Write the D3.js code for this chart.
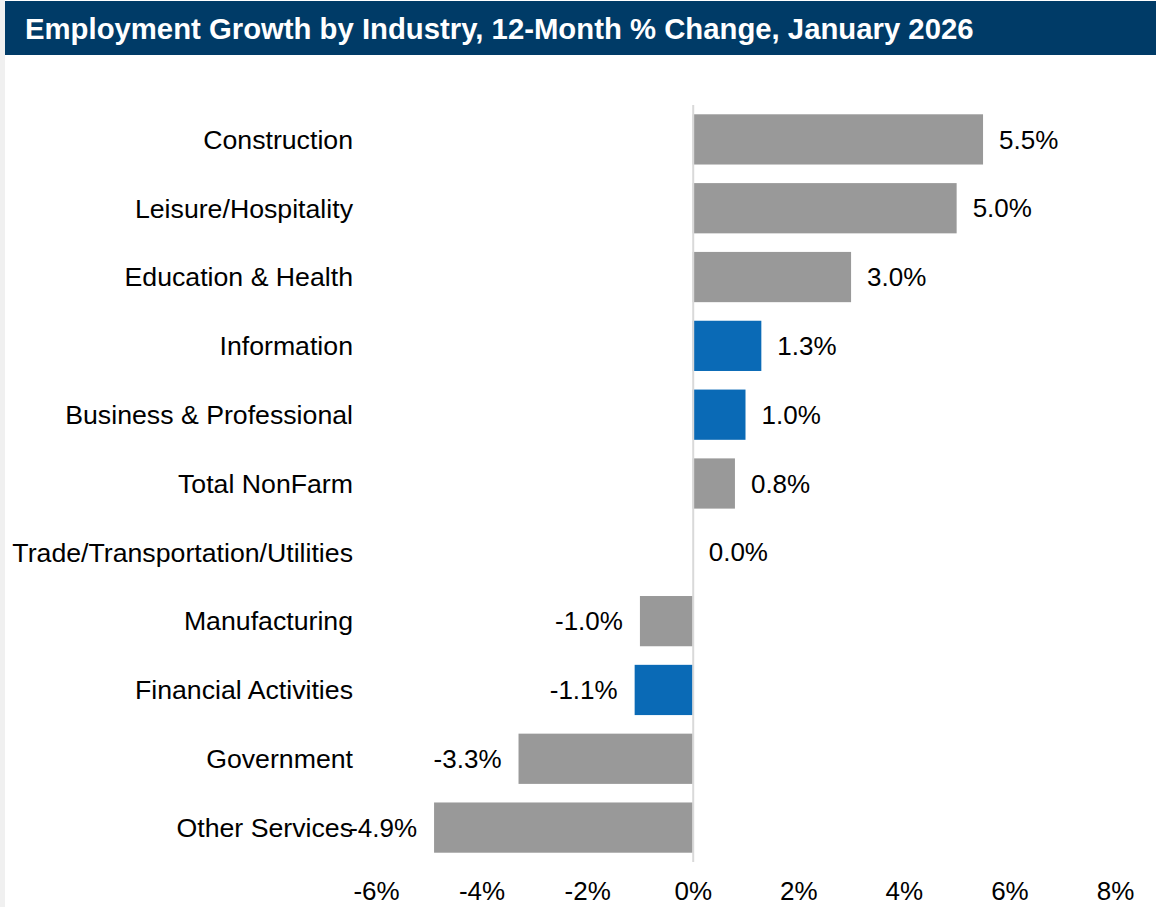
<!DOCTYPE html>
<html>
<head>
<meta charset="utf-8">
<script src="https://cdn.jsdelivr.net/npm/d3@7"></script>
<style>
  body { margin: 0; background: #fff; }
  svg { display: block; font-family: Arial, "Liberation Sans", sans-serif; }
</style>
</head>
<body>
<script>
// chart data
var categories = ["Construction", "Leisure/Hospitality", "Education & Health", "Information",
                  "Business & Professional", "Total NonFarm", "Trade/Transportation/Utilities",
                  "Manufacturing", "Financial Activities", "Government", "Other Services"];
var values = [5.5, 5.0, 3.0, 1.3, 1.0, 0.8, 0.0, -1.0, -1.1, -3.3, -4.9];
var highlighted = ["Information", "Business & Professional", "Financial Activities"];
var tickValues = [-6, -4, -2, 0, 2, 4, 6, 8];
var title = "Employment Growth by Industry, 12-Month % Change, January 2026";

var W = 1156, H = 907;

var svg = d3.select("body").append("svg")
    .attr("width", W)
    .attr("height", H);

// grey strip down the left edge
svg.append("rect")
    .attr("x", 0).attr("y", 0)
    .attr("width", 5).attr("height", H)
    .attr("fill", "#f0f0f0");

// title bar
svg.append("rect")
    .attr("x", 5).attr("y", 1)
    .attr("width", W - 5).attr("height", 54)
    .attr("fill", "#003b67");

svg.append("text")
    .attr("x", 25).attr("y", 39)
    .attr("fill", "#fff")
    .style("font-size", "29.3px")
    .style("font-weight", "bold")
    .text(title);

var x = d3.scaleLinear()
    .domain([-6, 8])
    .range([376, 1115]);

var y = d3.scaleBand()
    .domain(categories)
    .range([105, 862])
    .paddingInner(0.27)
    .paddingOuter(0.135);

var rows = categories.map(function(c, i) { return {cat: c, val: values[i]}; });

// bars
svg.selectAll("rect.bar")
    .data(rows)
  .enter().append("rect")
    .attr("class", "bar")
    .attr("x", function(d) { return x(Math.min(0, d.val)); })
    .attr("y", function(d) { return y(d.cat); })
    .attr("width", function(d) { return Math.abs(x(d.val) - x(0)); })
    .attr("height", y.bandwidth())
    .attr("fill", function(d) {
        return highlighted.indexOf(d.cat) >= 0 ? "#0a6ab6" : "#999999";
    });

// zero line
svg.append("line")
    .attr("x1", x(0) + 0.5).attr("x2", x(0) + 0.5)
    .attr("y1", y.range()[0]).attr("y2", y.range()[1])
    .attr("stroke", "#d9d9d9")
    .attr("stroke-width", 2);

// category labels
svg.selectAll("text.cat")
    .data(rows)
  .enter().append("text")
    .attr("class", "cat")
    .attr("x", 353)
    .attr("y", function(d) { return y(d.cat) + y.bandwidth() / 2; })
    .attr("dy", ".35em")
    .attr("text-anchor", "end")
    .style("font-size", "26.7px")
    .attr("fill", "#000")
    .text(function(d) { return d.cat; });

// value labels
svg.selectAll("text.val")
    .data(rows)
  .enter().append("text")
    .attr("class", "val")
    .attr("x", function(d) { return d.val < 0 ? x(d.val) - 17 : x(d.val) + 16; })
    .attr("y", function(d) { return y(d.cat) + y.bandwidth() / 2; })
    .attr("dy", ".35em")
    .attr("text-anchor", function(d) { return d.val < 0 ? "end" : "start"; })
    .style("font-size", "26px")
    .attr("fill", "#000")
    .text(function(d) { return d.val.toFixed(1) + "%"; });

// x axis
var axis = svg.append("g")
    .attr("transform", "translate(0," + y.range()[1] + ")")
    .call(d3.axisBottom(x)
        .tickValues(tickValues)
        .tickSize(0)
        .tickPadding(20)
        .tickFormat(function(d) { return d + "%"; }));

axis.select(".domain").remove();
axis.selectAll("text")
    .style("font-size", "26px")
    .style("font-family", "Arial, 'Liberation Sans', sans-serif")
    .attr("fill", "#000");
</script>
</body>
</html>
